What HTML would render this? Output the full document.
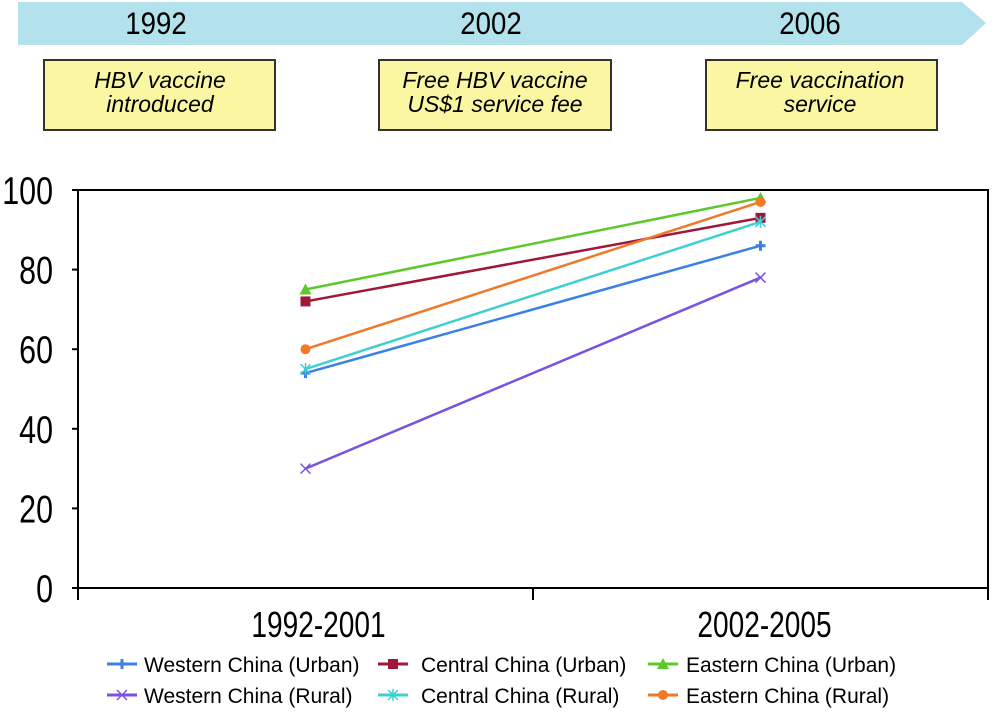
<!DOCTYPE html>
<html><head><meta charset="utf-8"><style>
body{margin:0;background:#fff;width:1003px;height:711px;overflow:hidden;font-family:"Liberation Sans Narrow","Liberation Sans",sans-serif}
svg text{font-family:"Liberation Sans Narrow","Liberation Sans",sans-serif}
</style></head><body>
<svg width="1003" height="711" viewBox="0 0 1003 711">
<polygon points="18,2 962,2 986,23 962,45 18,45" fill="#b3e1ec"/>
<g font-size="30" text-anchor="middle" fill="#000">
<text transform="translate(156,34) scale(0.92,1.05)">1992</text>
<text transform="translate(491,34) scale(0.92,1.05)">2002</text>
<text transform="translate(810,34) scale(0.92,1.05)">2006</text>
</g>
<g fill="#fbf6a2" stroke="#333" stroke-width="2">
<rect x="44" y="60" width="231" height="70"/>
<rect x="379" y="60" width="232" height="70"/>
<rect x="706" y="60" width="231" height="70"/>
</g>
<g font-size="23" font-style="italic" text-anchor="middle" fill="#000">
<text x="160" y="88">HBV vaccine</text>
<text x="160" y="112">introduced</text>
<text x="495" y="88">Free HBV vaccine</text>
<text x="495" y="112">US$1 service fee</text>
<text x="820" y="88">Free vaccination</text>
<text x="820" y="112">service</text>
</g>
<g id="plot"></g>
</svg>
<script>
const categories=["1992-2001","2002-2005"];
const seriesNames=["Western China (Urban)","Central China (Urban)","Eastern China (Urban)","Western China (Rural)","Central China (Rural)","Eastern China (Rural)"];
const westernUrban=[54,86];
const centralUrban=[72,93];
const easternUrban=[75,98];
const westernRural=[30,78];
const centralRural=[55,92];
const easternRural=[60,97];
const yTicks=[0,20,40,60,80,100];
const allSeries=[westernUrban,centralUrban,easternUrban,westernRural,centralRural,easternRural];
const colors=["#3b7fe8","#a0173a","#5cc82a","#7a52e0","#40cfcf","#f07a2a"];
const L=78,R=988,T=190,B=588;
const y=v=>B-(B-T)*v/100;
const x=i=>L+(R-L)*(i+0.5)/categories.length;
const NS="http://www.w3.org/2000/svg";
const g=document.getElementById('plot');
function mk(t,a){const e=document.createElementNS(NS,t);for(const k in a)e.setAttribute(k,a[k]);g.appendChild(e);return e;}
let e=mk('polyline',{points:`${L},${B} ${L},${T} ${R},${T} ${R},${B} ${L},${B}`,fill:'none',stroke:'#000','stroke-width':2});


yTicks.forEach(t=>{
 let l=mk('line',{x1:L-6,x2:L,y1:y(t),y2:y(t),stroke:'#000','stroke-width':2});
 
 
 let tx=mk('text',{transform:`translate(${L-25},${y(t)+14}) scale(0.78,1)`,'text-anchor':'end','font-size':39});
 tx.textContent=t;
 
 
});
for(let i=0;i<=categories.length;i++){
 const xx=L+(R-L)*i/categories.length;
 let l=mk('line',{x1:xx,x2:xx,y1:B,y2:B+12,stroke:'#000','stroke-width':2});
 
 
}
categories.forEach((c,i)=>{
 let tx=mk('text',{transform:`translate(${x(i)+13-9*i},637) scale(0.78,1)`,'text-anchor':'middle','font-size':36});
 tx.textContent=c;
 
 
});
function marker(k,cx,cy,col){
 let m;
 if(k===0) m=mk('path',{d:`M${cx-5},${cy}L${cx+5},${cy}M${cx},${cy-5}L${cx},${cy+5}`,stroke:col,'stroke-width':3});
 else if(k===1) m=mk('rect',{x:cx-5,y:cy-5,width:10,height:10,fill:col});
 else if(k===2) m=mk('polygon',{points:`${cx},${cy-6} ${cx+6},${cy+5} ${cx-6},${cy+5}`,fill:col});
 else if(k===3) m=mk('path',{d:`M${cx-5},${cy-5}L${cx+5},${cy+5}M${cx+5},${cy-5}L${cx-5},${cy+5}`,stroke:col,'stroke-width':1.5});
 else if(k===4) m=mk('path',{d:`M${cx-5},${cy-5}L${cx+5},${cy+5}M${cx+5},${cy-5}L${cx-5},${cy+5}M${cx},${cy-6}L${cx},${cy+6}`,stroke:col,'stroke-width':1.5});
 else m=mk('circle',{cx:cx,cy:cy,r:5,fill:col});
 return m;
}
allSeries.forEach((s,k)=>{
 let p=mk('polyline',{points:s.map((v,i)=>`${x(i)},${y(v)}`).join(' '),fill:'none',stroke:colors[k],'stroke-width':2.5});
 
 
 s.forEach((v,i)=>{
  let m=marker(k,x(i),y(v),colors[k]);
  
  
 });
});
const lx=[107,378,648],ly=[666,697];
const tx0=[144,421,686];
seriesNames.forEach((n,k)=>{
 const cx=lx[k%3],cy=ly[Math.floor(k/3)];
 let l=mk('line',{x1:cx,x2:cx+30,y1:cy-2,y2:cy-2,stroke:colors[k],'stroke-width':3});
 
 
 let m=marker(k,cx+15,cy-2,colors[k]);
 
 
 let tx=mk('text',{x:tx0[k%3],y:cy+6,'font-size':21});
 tx.textContent=n;
 
 
});
</script>
</body></html>
